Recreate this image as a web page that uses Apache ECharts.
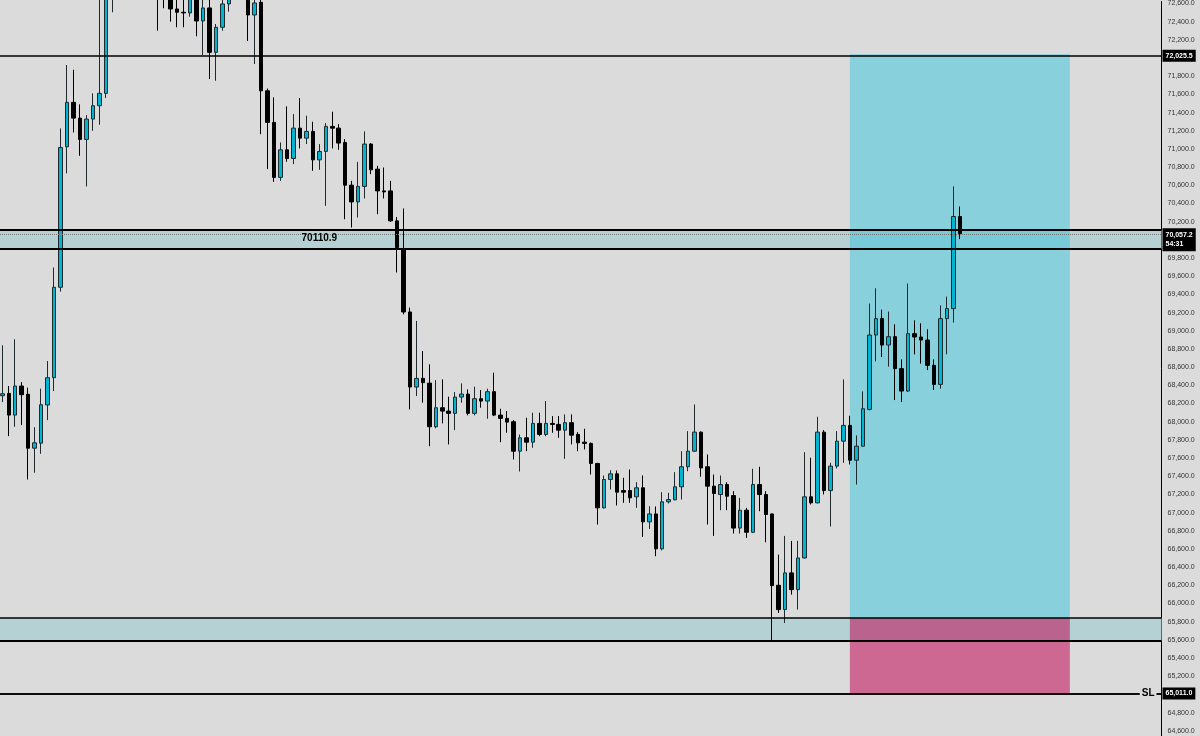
<!DOCTYPE html>
<html><head><meta charset="utf-8">
<script src="https://cdn.jsdelivr.net/npm/echarts@6/dist/echarts.min.js"></script>
<style>html,body{margin:0;padding:0;background:#dbdbdb;overflow:hidden}#c{width:1200px;height:736px}</style>
</head><body><div id="c"></div><script>
const opens = [
68278,68303,68065,68384,68293,67702,67757,68176,68476,69468,
71010,71498,71325,71091,71314,71461,71597,72780,72950,73100,
73000,73150,73050,72900,72950,72800,72700,72523,72487,72480,
72680,72391,72534,72047,72322,72578,72700,72850,72720,72457,
72596,71625,71278,70674,70977,70882,71215,71105,71179,70867,
70959,71234,71215,71058,70589,70405,70575,71040,70765,70526,
70526,70197,69893,69197,68373,68468,68416,67937,68146,68109,
68084,68263,68296,68084,68245,68219,68322,68065,68029,67992,
67669,67816,67768,67974,67853,67974,67963,67900,67982,67853,
67768,67754,67534,67047,67358,67420,67237,67237,67168,67267,
66893,66980,66597,67113,67135,67278,67498,67669,67878,67498,
67285,67193,67303,67182,66825,67021,66779,67303,67193,66980,
66197,65930,66333,66149,66497,67168,67102,67878,67237,67505,
67779,67952,67570,67724,68127,68944,69124,68834,68926,68575,
68329,68959,68922,68889,68611,68402,69124,69234,70245];
const closes = [
68300,68065,68384,68289,67702,67761,68179,68476,69468,71003,
71498,71325,71091,71314,71461,71597,72780,72950,73100,73000,
73150,73050,72900,72950,72800,72700,72523,72487,72480,72680,
72391,72534,72047,72322,72578,72700,72850,72720,72457,72589,
71625,71278,70674,70977,70882,71215,71105,71179,70867,70959,
71234,71215,71051,70589,70405,70575,71040,70757,70526,70515,
70197,69904,69197,68373,68468,68421,67937,68146,68109,68084,
68263,68296,68084,68245,68219,68322,68065,68029,67988,67669,
67816,67768,67974,67853,67974,67963,67900,67982,67845,67761,
67754,67534,67047,67358,67420,67219,67219,67157,67267,66893,
66980,66597,67113,67138,67278,67498,67669,67878,67485,67285,
67204,67303,67175,66825,67021,66779,67303,67193,66974,66193,
65930,66333,66149,66497,67168,67102,67878,67237,67505,67779,
67952,67570,67724,68135,68944,69124,68834,68926,68575,68329,
68959,68922,68889,68611,68402,69124,69234,70245,70057];
const lows = [
68208,67834,67937,67955,67358,67432,67640,68010,68329,69420,
70718,71168,70911,70575,71186,71252,71545,72487,72800,72880,
72900,72950,72800,72700,72285,72531,72384,72322,72322,72438,
72223,72018,71754,71735,72285,72493,72650,72660,72171,71919,
71149,70765,70626,70636,70845,70820,70992,71040,70746,70757,
70362,70992,70977,70215,70124,70234,70443,70710,70270,70443,
70186,69630,69171,68127,68274,68201,67724,67920,67974,67743,
67900,68201,68062,68062,68146,68025,68054,67768,67871,67578,
67446,67669,67706,67834,67834,67871,67816,67585,67743,67669,
67688,67413,66864,67040,67248,67073,67102,67102,67047,66728,
66816,66516,66580,67095,67130,67138,67449,67660,67388,66864,
66739,67021,67021,66765,66765,66717,66770,67010,66669,65585,
65893,65783,66094,65930,66490,67084,67095,67193,66842,67480,
67541,67523,67303,67720,68116,68655,68702,68597,68230,68208,
68320,68732,68630,68559,68340,68355,68732,69080,69996];
const highs = [
68831,68384,68897,68427,68366,67933,68355,68658,69685,71212,
71908,71856,71476,71358,71597,72700,72850,73050,73200,73250,
73300,73250,73150,73100,73050,72900,72800,72680,72700,72750,
72750,72660,72660,72358,72660,72800,72950,72900,72800,72680,
72650,71650,71553,71058,71454,71369,71545,71351,71285,71040,
71270,71395,71259,71095,70636,70845,71179,71051,70801,70783,
70636,70240,70333,69245,69098,68768,68622,68449,68457,68267,
68318,68413,68347,68377,68340,68355,68531,68135,68109,68010,
67852,68036,68091,68091,68219,68054,68054,68073,68073,67878,
67915,67765,67541,67402,67460,67457,67377,67468,67329,67402,
67065,67062,67219,67212,67439,67669,67889,68182,67885,67633,
67413,67402,67329,67230,67157,67047,67476,67498,67230,66985,
66534,66739,66684,66684,67658,67597,68047,67900,67541,67889,
68457,68058,67842,68325,69289,69457,69223,69201,69062,68677,
69509,69105,69073,69007,68677,69270,69366,70575,70355];
const futureSlots = 31;
const categories = Array.from({length: opens.length + futureSlots}, (_, i) => String(i));

const yTicks = [64600,64800,65000,65200,65400,65600,65800,66000,66200,66400,66600,66800,
  67000,67200,67400,67600,67800,68000,68200,68400,68600,68800,69000,69200,69400,69600,
  69800,70000,70200,70400,70600,70800,71000,71200,71400,71600,71800,72000,72200,72400,72600];
const yBottom = 64542.5, yTop = 72621.5;
const resistance = 72025.5;
const bandTop = 70110.9, bandBottom = 69900;
const lastPrice = 70057.2, countdown = '54:31';
const lowerBandTop = 65840, lowerBandBottom = 65590;
const entryPrice = 65840, targetPrice = 72025.5, stopLoss = 65011;
const positionStart = 131, positionEnd = 165;
const bandLabelBar = 49, bandLabelPrice = 70009;

function fmt(v){
  const s = Number(v).toFixed(1);
  const [a,b] = s.split('.');
  return a.replace(/\B(?=(\d{3})+(?!\d))/g, ',') + '.' + b;
}
const BG = '#dbdbdb';
const tag = (text, extra) => Object.assign({
  show: true, position: 'end', distance: 1, formatter: text,
  backgroundColor: '#000', color: '#fff', fontSize: 7, fontWeight: 'bold',
  fontFamily: 'Liberation Sans', padding: [3, 3, 2, 3]
}, extra || {});

const chart = echarts.init(document.getElementById('c'), null, {renderer: 'canvas'});
chart.setOption({
  animation: false,
  backgroundColor: BG,
  grid: [
    {left: 2.3, right: 39.57, top: 0, bottom: 0},
    {left: 0, right: 38.5, top: 0, bottom: 0}
  ],
  xAxis: [
    {type: 'category', data: categories, boundaryGap: false, show: false, gridIndex: 0},
    {type: 'value', min: 0, max: 1, show: false, gridIndex: 1}
  ],
  yAxis: [
    {type: 'value', min: yBottom, max: yTop, show: false, gridIndex: 0},
    {type: 'value', min: yBottom, max: yTop, gridIndex: 1, position: 'right',
     axisLine: {show: true, onZero: false, lineStyle: {color: '#000', width: 1}},
     axisTick: {show: false}, splitLine: {show: false},
     axisLabel: {customValues: yTicks, fontSize: 7, color: '#333', margin: 6,
                 fontFamily: 'Liberation Sans', formatter: v => fmt(v)}}
  ],
  series: [
    {
      type: 'line', xAxisIndex: 1, yAxisIndex: 1, data: [], z: 1, silent: true,
      markArea: {
        silent: true,
        itemStyle: {color: '#b5d1d4'},
        data: [
          [{yAxis: bandBottom}, {yAxis: bandTop}],
          [{yAxis: lowerBandBottom}, {yAxis: lowerBandTop}]
        ]
      },
      markLine: {
        silent: true, symbol: ['none', 'none'],
        label: {show: false},
        data: [
          {yAxis: resistance, lineStyle: {color: '#000', width: 1.5, type: 'solid'}, label: tag(fmt(resistance))},
          {yAxis: bandTop, lineStyle: {color: '#000', width: 2, type: 'solid'}},
          {yAxis: bandBottom, lineStyle: {color: '#000', width: 2, type: 'solid'}},
          {yAxis: lastPrice, lineStyle: {color: '#7a7a7a', width: 1, type: 'dotted'},
           label: tag(fmt(lastPrice) + '\n' + countdown, {lineHeight: 9, offset: [0, 5]})},
          {yAxis: lowerBandTop, lineStyle: {color: '#000', width: 1.5, type: 'solid'}},
          {yAxis: lowerBandBottom, lineStyle: {color: '#000', width: 2, type: 'solid'}},
          {yAxis: stopLoss, lineStyle: {color: '#000', width: 1.5, type: 'solid'}, label: tag(fmt(stopLoss))},
          {yAxis: stopLoss, lineStyle: {color: '#000', width: 1.5, type: 'solid'},
           label: {show: true, position: 'insideEnd', distance: 5, formatter: 'SL', color: '#000', fontSize: 10,
                   fontWeight: 'bold', fontFamily: 'Liberation Sans', backgroundColor: BG, padding: [1, 2]}}
        ]
      }
    },
    {
      type: 'line', xAxisIndex: 0, yAxisIndex: 0, data: [], z: 2, silent: true,
      markArea: {
        silent: true,
        data: [
          [{xAxis: positionStart, yAxis: targetPrice, itemStyle: {color: 'rgba(68,199,219,0.55)'}}, {xAxis: positionEnd, yAxis: entryPrice}],
          [{xAxis: positionStart, yAxis: entryPrice, itemStyle: {color: 'rgba(192,10,85,0.55)'}}, {xAxis: positionEnd, yAxis: stopLoss}]
        ]
      }
    },
    {
      type: 'candlestick', xAxisIndex: 0, yAxisIndex: 0, z: 3, barWidth: 4,
      data: opens.map((o, i) => [o, closes[i], lows[i], highs[i]]),
      itemStyle: {color: '#00b4d2', color0: '#000000', borderColor: '#1f2a2c', borderColor0: '#000000', borderWidth: 1},
      markPoint: {
        silent: true, symbol: 'circle', symbolSize: 0,
        data: [{coord: [bandLabelBar, bandLabelPrice]}],
        label: {show: true, position: 'inside', formatter: String(bandTop), color: '#000', fontSize: 10,
                fontWeight: 'bold', fontFamily: 'Liberation Sans'}
      }
    }
  ]
});
</script></body></html>
